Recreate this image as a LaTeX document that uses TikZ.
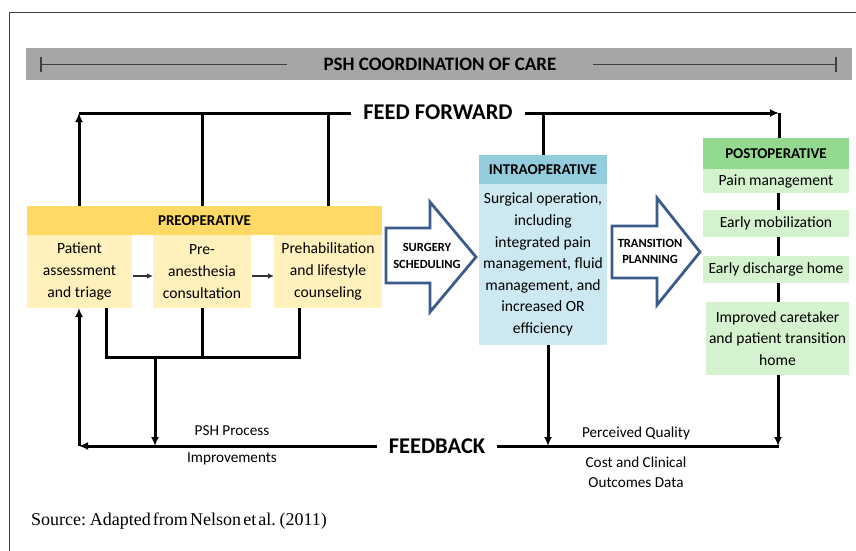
\documentclass[tikz,border=0pt]{standalone}
\usepackage{fontspec}
\setmainfont{Carlito}
\newfontfamily\srcfont{Liberation Serif}
\usetikzlibrary{arrows.meta}
\definecolor{preH}{HTML}{FFD966}
\definecolor{preB}{HTML}{FFF0BC}
\definecolor{intH}{HTML}{93CDDD}
\definecolor{intB}{HTML}{CCE8F0}
\definecolor{posH}{HTML}{93D98F}
\definecolor{posB}{HTML}{D5F2CF}
\definecolor{arrB}{HTML}{3A5B8C}
\definecolor{barG}{HTML}{A6A6A6}
\definecolor{lineG}{HTML}{3F3F3F}
\begin{document}
\begin{tikzpicture}[x=1pt,y=-1pt,
  box/.style={anchor=north west, inner sep=0pt, outer sep=0pt, align=center,
              font=\fontsize{15.6}{21.6}\selectfont},
  hdr/.style={box, font=\fontsize{15}{17}\selectfont\bfseries},
  conn/.style={line width=3pt, black},
  tipd/.style={-{Latex[length=9pt,width=8pt]}},
  smallarr/.style={line width=1.4pt, black!80, -{Latex[length=6pt,width=5.5pt]}},
  blockarr/.style={draw=arrB, line width=2.8pt, fill=white, line join=miter},
  arrtext/.style={font=\fontsize{12.5}{14}\selectfont\bfseries, inner sep=0pt},
  lbl/.style={font=\fontsize{15.2}{17}\selectfont, inner sep=0pt},
  bigword/.style={font=\fontsize{22.5}{24}\selectfont\bfseries, inner sep=0pt}
]
\useasboundingbox (0,0) rectangle (856,550);
\fill[white] (0,0) rectangle (856,550);
% outer frame (only top and left visible)
\draw[line width=1pt, lineG] (9,560) -- (9,12.5) -- (870,12.5);

% title bar
\fill[barG] (26,48) rectangle (852,80);
\node[font=\fontsize{19}{21}\selectfont\bfseries, inner sep=0pt] (title) at (440,64.5) {PSH COORDINATION OF CARE};
\draw[line width=1.4pt, lineG] (41,57) -- (41,72);
\draw[line width=1.4pt, lineG] (41,64.5) -- (287,64.5);
\draw[line width=1.4pt, lineG] (593,64.5) -- (836,64.5);
\draw[line width=1.4pt, lineG] (836,57) -- (836,72);

% preoperative
\node[hdr, fill=preH, minimum width=355pt, minimum height=29pt] (preH) at (27,206) {PREOPERATIVE};
\node[box, fill=preB, minimum width=105pt, minimum height=73pt] (b1) at (27,235) {Patient\\assessment\\and triage};
\node[box, fill=preB, minimum width=98pt, minimum height=73pt] (b2) at (153,235) {Pre-\\anesthesia\\consultation};
\node[box, fill=preB, minimum width=108pt, minimum height=73pt] (b3) at (274,235) {Prehabilitation\\and lifestyle\\counseling};
\coordinate (ay) at (0,276);
\draw[smallarr] (b1.east |- ay) ++(1,0) -- (b2.west |- ay);
\draw[smallarr] (b2.east |- ay) ++(1,0) -- (b3.west |- ay);

% intraoperative
\node[hdr, fill=intH, minimum width=128pt, minimum height=29pt] (iH) at (479,155) {INTRAOPERATIVE};
\node[box, fill=intB, minimum width=128pt, minimum height=161pt] (iB) at (479,184)
  {Surgical operation,\\including\\integrated pain\\management, fluid\\management, and\\increased OR\\efficiency};

% postoperative
\node[hdr, fill=posH, minimum width=146pt, minimum height=31pt] (pH) at (703,138) {POSTOPERATIVE};
\node[box, fill=posB, minimum width=146pt, minimum height=24pt] (p1) at (703,169) {Pain management};
\node[box, fill=posB, minimum width=146pt, minimum height=27pt] (p2) at (703,210) {Early mobilization};
\node[box, fill=posB, minimum width=146pt, minimum height=27pt] (p3) at (703,256) {Early discharge home};
\node[box, fill=posB, minimum width=143pt, minimum height=73pt] (p4) at (706,302) {Improved caretaker\\and patient transition\\home};

% block arrows
\draw[blockarr] (386,228) -- (430,228) -- (430,202) -- (476,257) -- (430,312) -- (430,283) -- (386,283) -- cycle;
\node[arrtext] (ss1) at (427,247) {SURGERY};
\node[arrtext] (ss2) at (427,264) {SCHEDULING};
\draw[blockarr] (612,226) -- (657,226) -- (657,198) -- (700,252) -- (657,305) -- (657,278) -- (612,278) -- cycle;
\node[arrtext] (tp1) at (650,243) {TRANSITION};
\node[arrtext] (tp2) at (650,259) {PLANNING};

% feed forward
\node[bigword] (FF) at (438,112) {FEED FORWARD};
\coordinate (ffL) at (79,113);
\coordinate (ffR) at (779,113);
\coordinate (rx) at (778,0);
\draw[conn, tipd] (preH.north -| ffL) -- (ffL);
\draw[conn] (ffL) -- ([xshift=-12pt]FF.west |- ffL);
\draw[conn] (b2.north |- preH.north) -- (b2.north |- ffL);
\draw[conn] (b3.north |- preH.north) -- (b3.north |- ffL);
\draw[conn] (iH.north) -- (iH.north |- ffL);
\draw[conn, tipd] ([xshift=12pt]FF.east |- ffR) -- (ffR);
\draw[conn] (ffR) -- (pH.north -| ffR);

% postop internal connectors
\draw[conn] (p1.south -| rx) -- (p2.north -| rx);
\draw[conn] (p2.south -| rx) -- (p3.north -| rx);
\draw[conn] (p3.south -| rx) -- (p4.north -| rx);

% feedback
\node[bigword] (FB) at (437,446) {FEEDBACK};
\coordinate (fbL) at (79,446);
\coordinate (fbR) at (779,446);
\draw[conn, tipd] ([xshift=-12pt]FB.west |- fbL) -- (fbL);
\draw[conn, tipd] (fbL) -- (b1.south -| fbL);
\draw[conn] ([xshift=12pt]FB.east |- fbR) -- (fbR);
\draw[conn, tipd] (p4.south -| rx) -- (rx |- fbR);
\coordinate (ix) at (548,0);
\draw[conn, tipd] (iB.south -| ix) -- (ix |- fbR);

% preop bottom collector
\coordinate (c1) at (106,357);
\coordinate (c3) at (299,357);
\coordinate (cd) at (155,357);
\draw[conn] (b1.south -| c1) -- (c1) -- (c3) -- (b3.south -| c3);
\draw[conn] (b2.south) -- (b2.south |- c1);
\draw[conn, tipd] (cd) -- (cd |- fbL);

% labels
\node[lbl] (l1) at (232,431) {PSH Process};
\node[lbl] (l2) at (232,459) {Improvements};
\node[lbl] (l3) at (636,433) {Perceived Quality};
\node[lbl] (l4) at (636,462) {Cost and Clinical};
\node[lbl] (l5) at (636,483) {Outcomes Data};

% source
\node[anchor=west, inner sep=0pt, font=\srcfont\fontsize{18}{20}\selectfont] (src) at (31,521) {\spaceskip=0.12em plus 0.02em\relax Source: Adapted from Nelson et al. (2011)};
\end{tikzpicture}
\end{document}
